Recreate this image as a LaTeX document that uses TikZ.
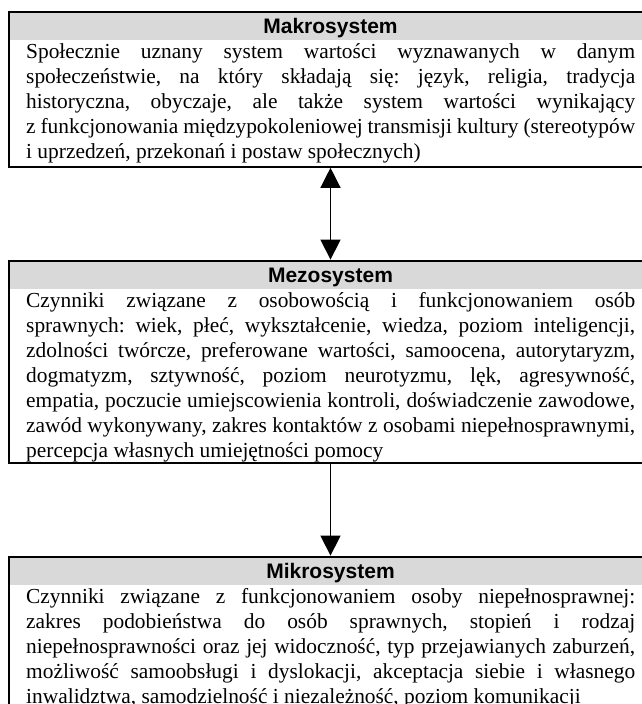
\documentclass[tikz,border=0pt]{standalone}
\usepackage{fontspec}
\setmainfont{Liberation Serif}
\newfontfamily\titlefont{Liberation Sans}
\usetikzlibrary{arrows.meta}
\definecolor{bandgray}{RGB}{217,217,217}
\newcommand\jline[1]{\makebox[609pt][s]{#1}}
\frenchspacing
\begin{document}
\begin{tikzpicture}[x=1pt,y=-1pt,
  sysbox/.style={draw, line width=2.2pt, inner sep=0pt, minimum width=643pt,
    path picture={\fill[bandgray] (path picture bounding box.north west) rectangle ([yshift=-28pt]path picture bounding box.north east);}},
  titletext/.style={anchor=base, inner sep=0pt, font=\titlefont\bfseries\fontsize{21}{25}\selectfont},
  bodytext/.style={anchor=base west, inner sep=0pt, font=\frenchspacing\fontsize{21.4}{25}\selectfont},
  conn/.style={line width=1.3pt},
  tip/.tip={Triangle[width=20pt,length=20pt]}
]
\useasboundingbox (0,0) rectangle (642,704);

% boxes
\node[sysbox, minimum height=154.7pt] (makro) at (330.5,89.35) {};
\node[sysbox, minimum height=202pt] (mezo) at (330.5,361.7) {};
\node[sysbox, minimum height=154.7pt] (mikro) at (330.5,634.05) {};

% Makrosystem
\node[titletext] (makroT) at (330.5,33.6) {Makrosystem};
\node[bodytext] (ma1) at (26,58.5) {\jline{Społecznie uznany system wartości wyznawanych w danym}};
\node[bodytext] (ma2) at (26,83.5) {\jline{społeczeństwie, na który składają się: język, religia, tradycja}};
\node[bodytext] (ma3) at (26,108.5) {\jline{historyczna, obyczaje, ale także system wartości wynikający}};
\node[bodytext] (ma4) at (26,133.5) {\jline{z funkcjonowania międzypokoleniowej transmisji kultury (stereotypów}};
\node[bodytext] (ma5) at (26,158.5) {i uprzedzeń, przekonań i postaw społecznych)};

% Mezosystem
\node[titletext] (mezoT) at (330.5,282.3) {Mezosystem};
\node[bodytext] (me1) at (26,307.2) {\jline{Czynniki związane z osobowością i funkcjonowaniem osób}};
\node[bodytext] (me2) at (26,332.2) {\jline{sprawnych: wiek, płeć, wykształcenie, wiedza, poziom inteligencji,}};
\node[bodytext] (me3) at (26,357.2) {\jline{zdolności twórcze, preferowane wartości, samoocena, autorytaryzm,}};
\node[bodytext] (me4) at (26,382.2) {\jline{dogmatyzm, sztywność, poziom neurotyzmu, lęk, agresywność,}};
\node[bodytext] (me5) at (26,407.2) {\jline{empatia, poczucie umiejscowienia kontroli, doświadczenie zawodowe,}};
\node[bodytext] (me6) at (26,432.2) {\jline{zawód wykonywany, zakres kontaktów z osobami niepełnosprawnymi,}};
\node[bodytext] (me7) at (26,457.2) {percepcja własnych umiejętności pomocy};

% Mikrosystem
\node[titletext] (mikroT) at (330.5,578.3) {Mikrosystem};
\node[bodytext] (mi1) at (26,603.2) {\jline{Czynniki związane z funkcjonowaniem osoby niepełnosprawnej:}};
\node[bodytext] (mi2) at (26,628.2) {\jline{zakres podobieństwa do osób sprawnych, stopień i rodzaj}};
\node[bodytext] (mi3) at (26,653.2) {\jline{niepełnosprawności oraz jej widoczność, typ przejawianych zaburzeń,}};
\node[bodytext] (mi4) at (26,678.2) {\jline{możliwość samoobsługi i dyslokacji, akceptacja siebie i własnego}};
\node[bodytext] (mi5) at (26,703.2) {inwalidztwa, samodzielność i niezależność, poziom komunikacji};

% connectors
\draw[conn, tip-tip] (makro.south) -- (mezo.north);
\draw[conn, -tip] (mezo.south) -- (mikro.north);
\end{tikzpicture}
\end{document}
